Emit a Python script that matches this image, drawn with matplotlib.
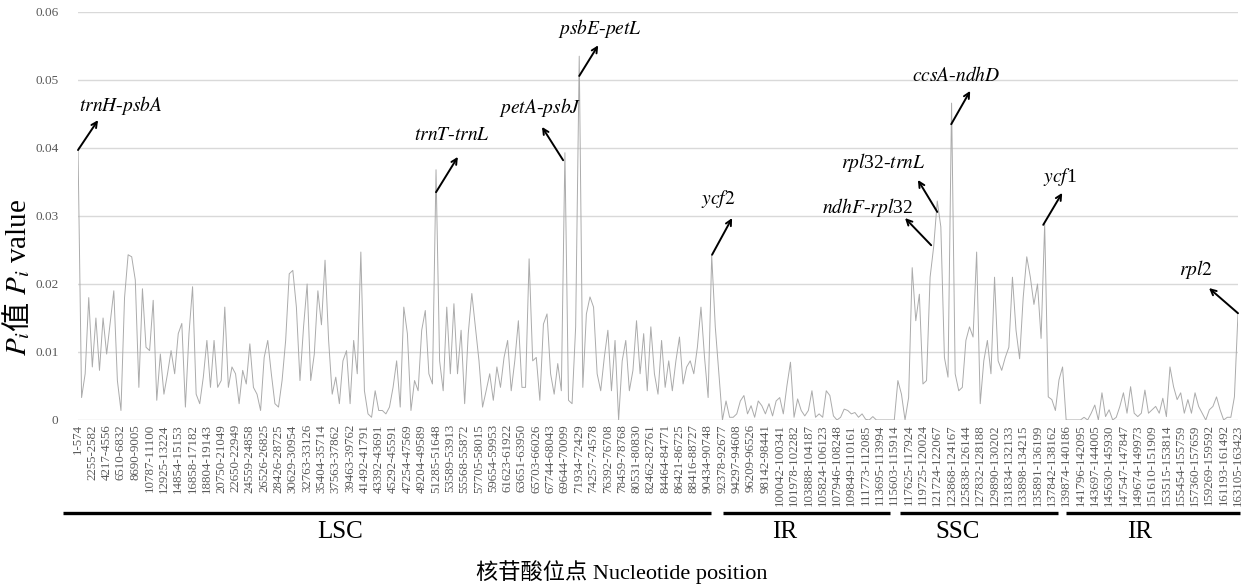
import numpy as np
import matplotlib
matplotlib.use("Agg")
import matplotlib.pyplot as plt

plt.rcParams['font.family'] = ['Liberation Serif', 'Noto Sans CJK SC']
plt.rcParams['mathtext.fontset'] = 'stix'

# Pi values per sliding window
pi_lsc = [
    0.040, 0.0033, 0.0068, 0.018, 0.0078, 0.015, 0.0073, 0.015, 0.0097, 0.0144,
    0.019, 0.0058, 0.0014, 0.018, 0.0243, 0.024, 0.0206, 0.0048, 0.0193, 0.0107,
    0.0102, 0.0176, 0.0029, 0.0097, 0.0038, 0.0068, 0.0102, 0.0068, 0.0127, 0.0142,
    0.0019, 0.0127, 0.0196, 0.0038, 0.0024, 0.0063, 0.0117, 0.0048, 0.0117, 0.0048,
    0.0058, 0.0166, 0.0048, 0.0078, 0.0068, 0.0024, 0.0073, 0.0053, 0.0112, 0.0048,
    0.0038, 0.0014, 0.0092, 0.0117, 0.0068, 0.0024, 0.0019, 0.0058, 0.0117, 0.0215,
    0.022, 0.0166, 0.0058, 0.0137, 0.020, 0.0058, 0.0097, 0.019, 0.014, 0.0235,
    0.0117, 0.0038, 0.0063, 0.0024, 0.0087, 0.0102, 0.0024, 0.0117, 0.0068, 0.0247,
    0.0043, 0.0009, 0.0004, 0.0043, 0.0014, 0.0014, 0.0009, 0.0019, 0.0048, 0.0087,
    0.0019, 0.0166, 0.0127, 0.0014, 0.0058, 0.0043, 0.0132, 0.0161, 0.0068, 0.0053,
    0.0368, 0.0087, 0.0043, 0.0166, 0.0068, 0.0171, 0.0068, 0.0132, 0.0024, 0.0127,
    0.0186, 0.0137, 0.0087, 0.0019, 0.0043, 0.0068, 0.0029, 0.0078, 0.0048, 0.0092,
    0.0117, 0.0043, 0.0087, 0.0146, 0.0048, 0.0048, 0.0237, 0.0087, 0.0092, 0.0029,
    0.0141, 0.0156, 0.0068, 0.0038, 0.0083, 0.0043, 0.0393, 0.0029, 0.0024, 0.0137,
    0.0535, 0.0048, 0.0156, 0.0181, 0.0166, 0.0068, 0.0043, 0.0092, 0.0132, 0.0043,
    0.0117, 0.0, 0.0087, 0.0117, 0.0043, 0.0073, 0.0146, 0.0068, 0.0127, 0.0043,
    0.0137, 0.0068, 0.0038, 0.0117, 0.0048, 0.0087, 0.0043, 0.0087, 0.0122, 0.0053,
    0.0078, 0.0087, 0.0068, 0.0107, 0.0166, 0.0092, 0.0033, 0.0242, 0.0137, 0.0068,
]
pi_irb = [
    0.0, 0.0028, 0.0004, 0.0004, 0.0009, 0.0028, 0.0036, 0.0009, 0.0021, 0.0004,
    0.0028, 0.0021, 0.0009, 0.0024, 0.0006, 0.0028, 0.0033, 0.0009, 0.005, 0.0085,
    0.0004, 0.0031, 0.0014, 0.0006, 0.0014, 0.0043, 0.0004, 0.0009, 0.0004, 0.0043,
    0.0036, 0.0006, 0.0, 0.0004, 0.0016, 0.0014, 0.0009, 0.0011, 0.0004, 0.0009,
    0.0001, 0.0, 0.0005, 0.0, 0.0, 0.0, 0.0, 0.0, 0.0, 0.0058,
    0.0038, 0.0,
]
pi_ssc = [
    0.0033, 0.0224, 0.0146, 0.0185, 0.0053, 0.0058, 0.021, 0.0255, 0.0322, 0.0284,
    0.0092, 0.0063, 0.0466, 0.0068, 0.0043, 0.0048, 0.0117, 0.0137, 0.0122, 0.0247,
    0.0024, 0.0087, 0.0117, 0.0068, 0.021, 0.0087, 0.0073, 0.0092, 0.0107, 0.021,
    0.0132, 0.009, 0.018, 0.024, 0.021, 0.017, 0.02, 0.012, 0.0288, 0.0034,
    0.003, 0.0014, 0.0059, 0.0078,
]
pi_ira = [
    0.0, 0.0, 0.0, 0.0, 0.0, 0.0004, 0.0, 0.001, 0.0022, 0.0,
    0.004, 0.0005, 0.0015, 0.0, 0.0004, 0.002, 0.004, 0.001, 0.0049, 0.001,
    0.0005, 0.001, 0.0044, 0.001, 0.0015, 0.002, 0.001, 0.0032, 0.0005, 0.0078,
    0.0049, 0.003, 0.004, 0.001, 0.003, 0.001, 0.004, 0.002, 0.001, 0.0,
    0.0015, 0.002, 0.0034, 0.0015, 0.0, 0.0004, 0.0004, 0.0034, 0.0157,
]

tick_labels = [
    "1-574", "2255-2582", "4217-4556", "6510-6832", "8690-9005", "10787-11100",
    "12925-13224", "14854-15153", "16858-17182", "18804-19143", "20750-21049",
    "22650-22949", "24559-24858", "26526-26825", "28426-28725", "30629-30954",
    "32763-33126", "35404-35714", "37563-37862", "39463-39762", "41492-41791",
    "43392-43691", "45292-45591", "47254-47569", "49204-49589", "51285-51648",
    "53589-53913", "55568-55872", "57705-58015", "59654-59953", "61623-61922",
    "63651-63950", "65703-66026", "67744-68043", "69644-70099", "71934-72429",
    "74257-74578", "76392-76708", "78459-78768", "80531-80830", "82462-82761",
    "84464-84771", "86421-86725", "88416-88727", "90434-90748", "92378-92677",
    "94297-94608", "96209-96526", "98142-98441", "100042-100341", "101978-102282",
    "103888-104187", "105824-106123", "107946-108248", "109849-110161",
    "111773-112085", "113695-113994", "115603-115914", "117625-117924",
    "119725-120024", "121724-122067", "123868-124167", "125838-126144",
    "127832-128188", "129890-130202", "131834-132133", "133898-134215",
    "135891-136199", "137842-138162", "139874-140186", "141796-142095",
    "143697-144005", "145630-145930", "147547-147847", "149674-149973",
    "151610-151909", "153515-153814", "155454-155759", "157360-157659",
    "159269-159592", "161193-161492", "163105-163423",
]

regions = ["LSC", "IR", "SSC", "IR"]
region_bars = [(-4.2, 176.8), (180.2, 226.8), (229.6, 273.7), (276.0, 324.6)]
region_label_x = [73.2, 197.5, 245.8, 296.6]

# label, arrow tail, arrow head, text position (data coords)
notes = [
    (r"$\mathit{trnH}$-$\mathit{psbA}$", (0, 0.0397), (5.6, 0.0441), (12.0, 0.0463)),
    (r"$\mathit{trnT}$-$\mathit{trnL}$", (100, 0.0335), (106.1, 0.0387), (104.5, 0.0419)),
    (r"$\mathit{petA}$-$\mathit{psbJ}$", (135.5, 0.0382), (129.6, 0.0431), (129.0, 0.0460)),
    (r"$\mathit{psbE}$-$\mathit{petL}$", (140, 0.0506), (145.3, 0.0551), (145.8, 0.0576)),
    (r"$\mathit{ycf2}$", (177.1, 0.0243), (182.7, 0.0297), (178.8, 0.0325)),
    (r"$\mathit{ndhF}$-$\mathit{rpl}$32", (238.3, 0.0257), (231.0, 0.0297), (220.4, 0.0312)),
    (r"$\mathit{rpl}$32-$\mathit{trnL}$", (240.0, 0.0306), (234.6, 0.0353), (224.9, 0.0379)),
    (r"$\mathit{ccsA}$-$\mathit{ndhD}$", (243.9, 0.0435), (249.2, 0.0484), (245.3, 0.0507)),
    (r"$\mathit{ycf}$1", (269.6, 0.0287), (274.9, 0.0334), (274.3, 0.0357)),
    (r"$\mathit{rpl2}$", (324.0, 0.0157), (315.9, 0.0194), (312.3, 0.0221)),
]

pi = np.array(pi_lsc + pi_irb + pi_ssc + pi_ira)
x = np.arange(len(pi))

fig = plt.figure(figsize=(12.44, 5.85), dpi=100)
ax = fig.add_axes([78 / 1244, 165 / 585, 1160 / 1244, 408 / 585])

ax.plot(x, pi, color="#ababab", lw=0.7)

ax.set_xlim(0, len(pi) - 1)
ax.set_ylim(0, 0.06)
ax.set_yticks(np.arange(0, 0.061, 0.01))
ax.set_yticklabels(["0", "0.01", "0.02", "0.03", "0.04", "0.05", "0.06"])
ax.set_xticks(x[::4])
ax.set_xticklabels(tick_labels, rotation=90)
ax.tick_params(axis="x", length=0, pad=3, labelsize=9.3, labelcolor="#595959")
ax.tick_params(axis="y", length=0, pad=14, labelsize=9.5, labelcolor="#595959")
ax.grid(axis="y", color="#d9d9d9", lw=1)
ax.set_axisbelow(True)
for s in ax.spines.values():
    s.set_visible(False)

for label, tail, head, pos in notes:
    ax.annotate("", xy=head, xytext=tail,
                arrowprops=dict(arrowstyle="->", color="black", lw=1.4,
                                shrinkA=0, shrinkB=0))
    ax.text(pos[0], pos[1], label, fontsize=14, ha="center", va="center")

trans = ax.get_xaxis_transform()
for name, (x0, x1), lx in zip(regions, region_bars, region_label_x):
    ax.plot([x0, x1], [-0.228, -0.228], color="black", lw=2.4,
            transform=trans, clip_on=False, solid_capstyle="butt")
    ax.text(lx, -0.275, name, transform=trans, ha="center", va="center",
            fontsize=18)

fig.text(0.5, 1 - 572 / 585, "核苷酸位点 Nucleotide position", ha="center",
         va="center", fontsize=16)

# y label assembled piece by piece (CJK glyph + mathtext)
fig.canvas.draw()
r = fig.canvas.get_renderer()
y_px = 356
x_px = 26
for s, fam in [(r"$P_i$", None), ("值", ["Noto Sans CJK SC"]), (r" $P_i$ value", None)]:
    kw = {"family": fam} if fam else {}
    t = fig.text(x_px / 1244, 1 - y_px / 585, s, rotation=90,
                 rotation_mode="anchor", ha="left", va="baseline",
                 fontsize=21, **kw)
    bb = t.get_window_extent(r)
    y_px += -bb.height

fig.savefig("out.png", dpi=100)
